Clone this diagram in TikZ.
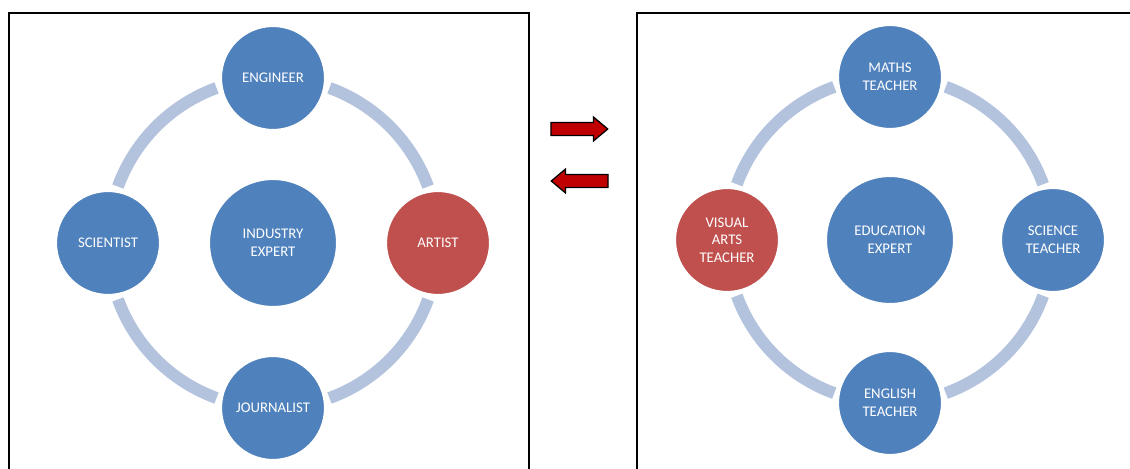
\documentclass[tikz,border=0pt]{standalone}
\usepackage{fontspec}
\setmainfont{Carlito}
\usetikzlibrary{shapes.arrows}
\definecolor{roleblue}{HTML}{4F81BD}
\definecolor{rolered}{HTML}{C0504D}
\definecolor{ringblue}{HTML}{B3C2DD}
\definecolor{arrowred}{HTML}{C00000}
\tikzset{
	role/.style={circle, fill=roleblue, draw=white, line width=1.5pt, text=white, minimum size=2.6cm, inner sep=0pt, align=center, font=\fontsize{10.5}{12.6}\selectfont},
	expert/.style={role, minimum size=3.2cm},
	ring/.style={ringblue, line width=0.3cm},
	panel/.style={draw=black, line width=0.9pt},
	swap/.style={single arrow, draw=black, fill=arrowred, line width=0.9pt, minimum height=1.42cm, inner xsep=0pt, inner ysep=0.145cm, single arrow head extend=0.14cm, single arrow tip angle=80}
}

\begin{document}
\begin{tikzpicture}[x=0.025cm, y=0.025cm]
				\useasboundingbox (0,0) rectangle (1130,468);
				% panels
				\draw[panel] (9,-5) -- (9,455) -- (529,455) -- (529,-5);
				\draw[panel] (637,-5) -- (637,455) -- (1135,455);
				% industry side
				\node[expert] (ie)at(273, 225) {INDUSTRY\\EXPERT};
				\foreach \a in {0, 90, 180, 270}
					\draw[ring] ([shift={(\a+20:165)}]ie.center) arc[start angle=\a+20, end angle=\a+70, radius=165];
				\node[role] (eng)at(273, 390) {ENGINEER};
				\node[role] (sci)at(108, 225) {SCIENTIST};
				\node[role, fill=rolered] (art)at(438, 225) {ARTIST};
				\node[role] (jou)at(273, 60) {JOURNALIST};
				% education side
				\node[expert] (ee)at(890, 228) {EDUCATION\\EXPERT};
				\foreach \a in {0, 90, 180, 270}
					\draw[ring] ([shift={(\a+20:163)}]ee.center) arc[start angle=\a+20, end angle=\a+70, radius=163];
				\node[role] (mat)at(890, 391) {MATHS\\TEACHER};
				\node[role, fill=rolered] (vis)at(727, 228) {VISUAL\\ARTS\\TEACHER};
				\node[role] (sct)at(1053, 228) {SCIENCE\\TEACHER};
				\node[role] (eng2)at(890, 65) {ENGLISH\\TEACHER};
				% swap arrows
				\node[swap] (toedu)at(575.5, 339) {};
				\node[swap, shape border rotate=180] (toind)at(583.5, 287) {};
			\end{tikzpicture}
\end{document}
